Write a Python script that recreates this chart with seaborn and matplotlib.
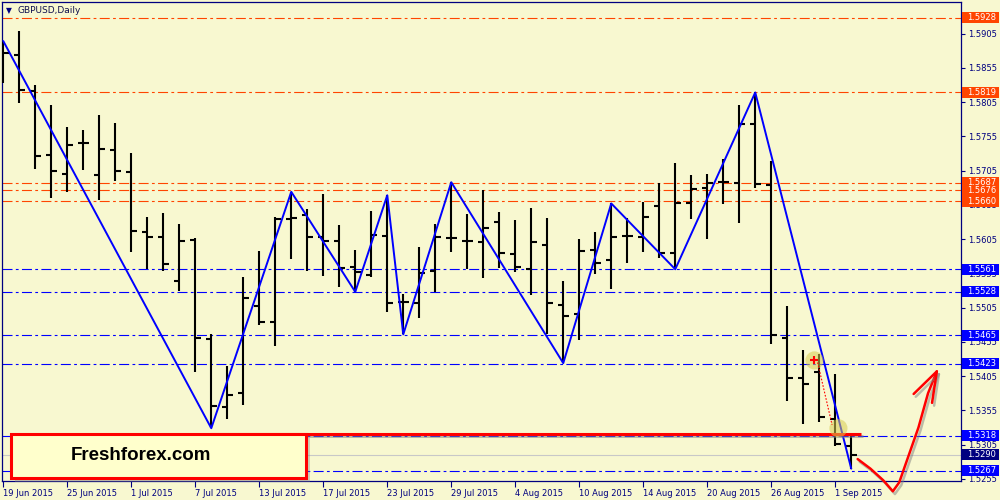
import matplotlib
matplotlib.use("Agg")
import numpy as np
import matplotlib.pyplot as plt
import matplotlib.patheffects as pe
import matplotlib.transforms as mtransforms
from matplotlib.patches import Rectangle
import seaborn as sns

BG = "#f8f8d0"
NAVY = "#000080"
ORANGE = "#ff4500"
BLUE = "#0000ff"

# ----------------------------
# Data (GBPUSD daily, 19 Jun - 2 Sep 2015)
# ----------------------------
date_labels = ["19 Jun 2015", "25 Jun 2015", "1 Jul 2015", "7 Jul 2015", "13 Jul 2015",
               "17 Jul 2015", "23 Jul 2015", "29 Jul 2015", "4 Aug 2015", "10 Aug 2015",
               "14 Aug 2015", "20 Aug 2015", "26 Aug 2015", "1 Sep 2015"]
date_bars = [0, 4, 8, 12, 16, 20, 24, 28, 32, 36, 40, 44, 48, 52]

opens = [1.5860, 1.5873, 1.5821, 1.5728, 1.5700, 1.5745, 1.5698, 1.5735, 1.5703, 1.5615,
         1.5608, 1.5544, 1.5603, 1.5459, 1.5360, 1.5380, 1.5507, 1.5484, 1.5634, 1.5640,
         1.5608, 1.5602, 1.5564, 1.5552, 1.5609, 1.5513, 1.5512, 1.5558, 1.5606, 1.5602,
         1.5601, 1.5630, 1.5583, 1.5561, 1.5596, 1.5509, 1.5496, 1.5589, 1.5574, 1.5609,
         1.5608, 1.5653, 1.5585, 1.5657, 1.5679, 1.5688, 1.5687, 1.5773, 1.5684, 1.5461,
         1.5402, 1.5411, 1.5342, 1.5303]
highs = [1.5894, 1.5908, 1.5830, 1.5800, 1.5768, 1.5764, 1.5786, 1.5774, 1.5730, 1.5637,
         1.5643, 1.5627, 1.5606, 1.5466, 1.5420, 1.5550, 1.5587, 1.5637, 1.5674, 1.5649,
         1.5671, 1.5625, 1.5589, 1.5646, 1.5669, 1.5525, 1.5593, 1.5627, 1.5688, 1.5641,
         1.5676, 1.5644, 1.5633, 1.5650, 1.5636, 1.5544, 1.5605, 1.5615, 1.5657, 1.5636,
         1.5659, 1.5687, 1.5716, 1.5698, 1.5700, 1.5722, 1.5800, 1.5819, 1.5719, 1.5507,
         1.5443, 1.5437, 1.5408, 1.5319]
lows = [1.5833, 1.5803, 1.5707, 1.5665, 1.5674, 1.5706, 1.5662, 1.5690, 1.5586, 1.5561,
        1.5558, 1.5529, 1.5411, 1.5329, 1.5342, 1.5363, 1.5480, 1.5449, 1.5576, 1.5558,
        1.5551, 1.5535, 1.5528, 1.5550, 1.5498, 1.5466, 1.5490, 1.5528, 1.5586, 1.5561,
        1.5548, 1.5563, 1.5557, 1.5523, 1.5466, 1.5424, 1.5458, 1.5554, 1.5532, 1.5570,
        1.5586, 1.5577, 1.5561, 1.5634, 1.5605, 1.5656, 1.5628, 1.5679, 1.5452, 1.5369,
        1.5335, 1.5338, 1.5303, 1.5270]
closes = [1.5876, 1.5822, 1.5726, 1.5704, 1.5742, 1.5745, 1.5736, 1.5704, 1.5617, 1.5608,
          1.5568, 1.5602, 1.5461, 1.5361, 1.5377, 1.5519, 1.5484, 1.5634, 1.5636, 1.5608,
          1.5602, 1.5563, 1.5557, 1.5611, 1.5512, 1.5513, 1.5555, 1.5608, 1.5606, 1.5602,
          1.5621, 1.5585, 1.5564, 1.5601, 1.5512, 1.5493, 1.5587, 1.5570, 1.5608, 1.5609,
          1.5637, 1.5585, 1.5657, 1.5678, 1.5687, 1.5688, 1.5773, 1.5685, 1.5465, 1.5402,
          1.5393, 1.5345, 1.5306, 1.5290]

zz_bars = [0, 13, 18, 22, 24, 25, 28, 35, 38, 42, 47, 53]
zz_prices = [1.5894, 1.5329, 1.5674, 1.5528, 1.5669, 1.5466, 1.5688, 1.5424, 1.5657,
             1.5561, 1.5819, 1.5270]

red_levels = [1.5928, 1.5819, 1.5676, 1.5687, 1.5660]
blue_levels = [1.5561, 1.5528, 1.5465, 1.5423, 1.5318, 1.5267]
last_price = 1.5290
support_price = 1.5321
support_span = [12.9, 53.6]

price_ticks = ["1.5905", "1.5855", "1.5805", "1.5755", "1.5705", "1.5655", "1.5605",
               "1.5555", "1.5505", "1.5455", "1.5405", "1.5355", "1.5305", "1.5255"]

# hand drawn forecast arrow (bar index, price)
arrow_x = [53.4, 54.2, 55.0, 55.6, 56.0, 56.6, 57.2, 57.8, 58.35]
arrow_y = [1.5284, 1.5270, 1.5253, 1.5237, 1.5250, 1.5290, 1.5330, 1.5380, 1.5412]
head_x = [56.9, 58.35, 58.05]
head_y = [1.5379, 1.5412, 1.5366]

marks_x = [50.7, 52.2]
marks_y = [1.5428, 1.5329]

# ----------------------------
# Figure
# ----------------------------
sns.set_style("white", {"axes.facecolor": BG, "figure.facecolor": BG})
plt.rcParams["font.family"] = ["DejaVu Sans"]

fig = plt.figure(figsize=(10, 5), dpi=100, facecolor=BG)
ax = fig.add_axes([0.002, 0.038, 0.959, 0.958])
ax.set_facecolor(BG)

dashdot = (9, 3, 2.5, 3)
for lvl in red_levels:
    ax.axhline(lvl, color=ORANGE, lw=0.8, dashes=dashdot, zorder=1)
for lvl in blue_levels:
    ax.axhline(lvl, color=BLUE, lw=0.8, dashes=dashdot, zorder=1)
ax.axhline(last_price, color="#c8c8c8", lw=0.8, zorder=1)

# OHLC bars
bars = np.arange(len(opens))
ax.vlines(bars, lows, highs, color="black", lw=1.5, zorder=3)
ax.hlines(opens, bars - 0.33, bars, color="black", lw=1.5, zorder=3)
ax.hlines(closes, bars, bars + 0.33, color="black", lw=1.5, zorder=3)

# zigzag
sns.lineplot(x=zz_bars, y=zz_prices, color=BLUE, lw=1.4, ax=ax, zorder=4)

shadow = [pe.SimpleLineShadow(offset=(1.5, -2), shadow_color="gray", alpha=0.5), pe.Normal()]

# support line
ax.plot(support_span, [support_price, support_price], color="#ff0000", lw=2.2,
        zorder=5, path_effects=shadow, solid_capstyle="butt")

# highlight marks
ax.scatter(marks_x, marks_y, s=170, color="#d8cc50", alpha=0.55, edgecolor="none", zorder=6)
ax.plot([marks_x[0]], [marks_y[0]], marker="+", color="red", ms=6, mew=1.5, zorder=7)
ax.plot([50.9, 51.8], [1.5425, 1.5334], color="red", lw=0.8, ls=(0, (1.5, 1.5)), zorder=7)

# forecast arrow
ax.plot(arrow_x, arrow_y, color="#ff0000", lw=1.8, zorder=8, clip_on=False,
        path_effects=shadow, solid_capstyle="round", solid_joinstyle="round")
ax.plot(head_x, head_y, color="#ff0000", lw=1.8, zorder=8, clip_on=False,
        path_effects=shadow, solid_capstyle="round", solid_joinstyle="round")

# axes
ax.set_xlim(-0.08, 59.86)
ax.set_ylim(1.5252, 1.5951)
ax.yaxis.tick_right()
ax.set_yticks([float(t) for t in price_ticks])
ax.set_yticklabels(price_ticks)
ax.set_xticks(date_bars)
ax.set_xticklabels(date_labels, ha="left")
ax.tick_params(axis="y", direction="out", length=3, width=0.8, color=NAVY,
               labelcolor=NAVY, labelsize=6, pad=2, right=True, left=False)
ax.tick_params(axis="x", direction="out", length=4, width=0.8, color=NAVY,
               labelcolor=NAVY, labelsize=6, pad=2, bottom=True)
for s in ax.spines.values():
    s.set_color(NAVY)
    s.set_linewidth(0.9)
ax.set_xlabel("")
ax.set_ylabel("")

# level labels on the price scale
trans = mtransforms.blended_transform_factory(ax.transAxes, ax.transData)
box_h = 0.0016


def level_box(price, face):
    ax.add_patch(Rectangle((1.001, price - box_h / 2), 0.039, box_h, transform=trans,
                           facecolor=face, edgecolor="none", clip_on=False, zorder=10))
    ax.text(1.0215, price, f"{price:.4f}", transform=trans, color="white", fontsize=6,
            ha="center", va="center", clip_on=False, zorder=11)


for lvl in red_levels:
    level_box(lvl, ORANGE)
for lvl in blue_levels:
    level_box(lvl, BLUE)
level_box(last_price, NAVY)

# title
fig.text(0.006, 0.979, "\u25bc", color=NAVY, fontsize=5.5, va="center")
fig.text(0.018, 0.979, "GBPUSD,Daily", color="#101050", fontsize=6.5, va="center")

# logo box
ax.add_artist(Rectangle((0.015, 0.036), 0.295, 0.088, transform=fig.transFigure,
                        facecolor="gray", alpha=0.35, edgecolor="none", clip_on=False, zorder=12))
ax.add_artist(Rectangle((0.011, 0.044), 0.295, 0.088, transform=fig.transFigure,
                        facecolor="#ffffcc", edgecolor="#ff0000", lw=2.2, clip_on=False, zorder=13))
fig.text(0.141, 0.089, "Freshforex.com", fontsize=13.5, fontweight="bold",
         family="Liberation Sans", color="black", ha="center", va="center", zorder=14)

fig.savefig("out.png", dpi=100, facecolor=BG)
